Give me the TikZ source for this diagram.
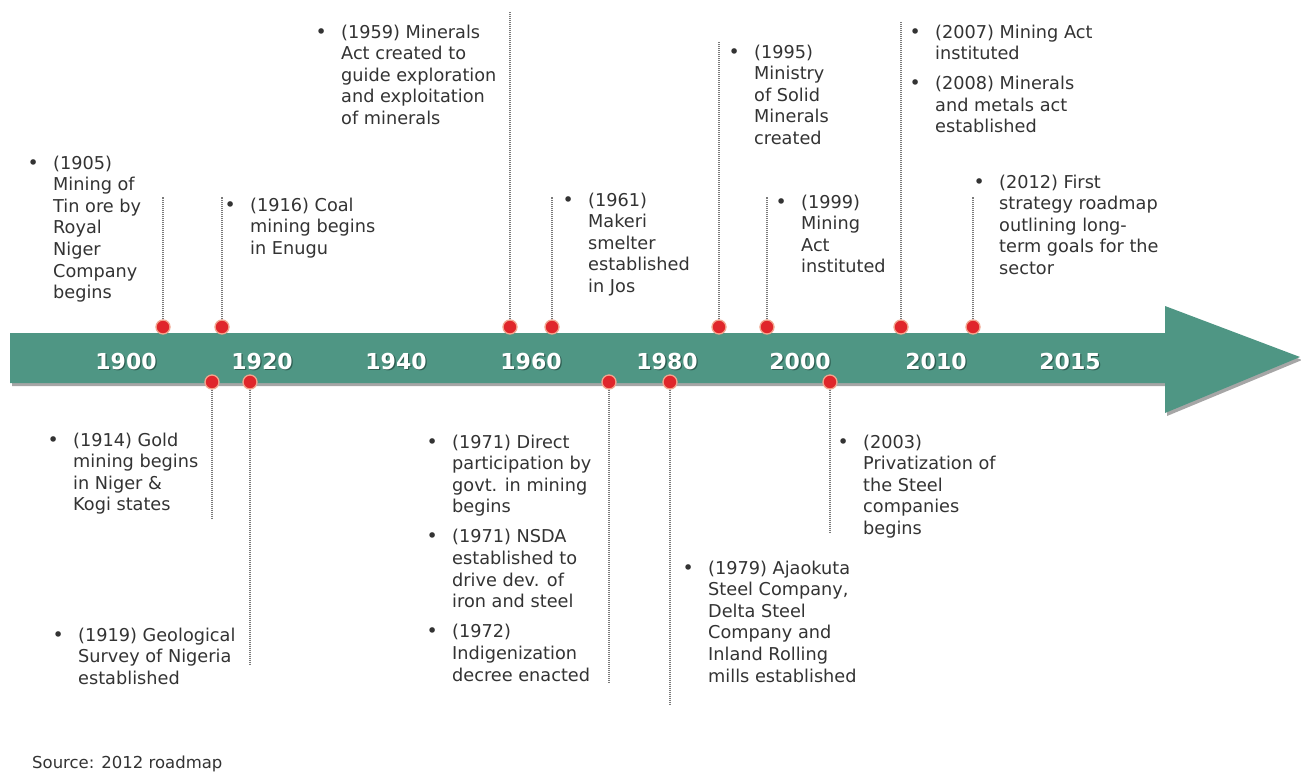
\documentclass[tikz,border=0pt]{standalone}
\usepackage{fontspec}
\setmainfont{DejaVu Sans}
\definecolor{teal1}{HTML}{4F9684}
\definecolor{tealdark}{HTML}{2F5E52}
\definecolor{txt}{HTML}{333333}
\definecolor{dotred}{HTML}{E0262B}
\definecolor{dotrim}{HTML}{F2A58E}
\definecolor{lnk}{HTML}{7A7A7A}
\newcommand\bu{\makebox[20pt][l]{\makebox[0pt][c]{\fontsize{19}{19}\selectfont •}}}
\begin{document}
\begin{tikzpicture}[x=1pt,y=-1pt,
  blk/.style={anchor=base west,inner sep=0pt,text=txt,font=\fontsize{17.7}{21.6}\selectfont},
  yr/.style={text=white,inner sep=0pt,font=\fontsize{22}{24}\bfseries\selectfont},
  yrs/.style={text=tealdark,inner sep=0pt,font=\fontsize{22}{24}\bfseries\selectfont},
  evdot/.style={circle,fill=dotred,draw=dotrim,line width=1.3pt,minimum size=14pt,inner sep=0pt},
  conn/.style={draw=lnk,line width=1.1pt,dash pattern=on 1pt off 1pt},
  src/.style={anchor=base west,inner sep=0pt,text=txt,font=\fontsize{16.5}{18}\selectfont}]
\useasboundingbox[fill=white] (0,0) rectangle (1301,772);

% arrow
\fill[black,opacity=0.35] (12,336) -- (1167,336) -- (1167,309) -- (1302,360) -- (1167,416) -- (1167,386) -- (12,386) -- cycle;
\fill[teal1] (10,333) -- (1165,333) -- (1165,306) -- (1300,357) -- (1165,413) -- (1165,383) -- (10,383) -- cycle;

% year labels
\foreach \x/\t in {126/1900,262/1920,396/1940,531/1960,667/1980,800/2000,936/2010,1070/2015}{
  \node[yrs] at (\x+1.3,362.3) {\t};
  \node[yr] (y\t) at (\x,361) {\t};
}

% event dots
\node[evdot] (d1905) at (163,327) {};
\node[evdot] (d1916) at (222,327) {};
\node[evdot] (d1959) at (510,327) {};
\node[evdot] (d1961) at (552,327) {};
\node[evdot] (d1995) at (719,327) {};
\node[evdot] (d1999) at (767,327) {};
\node[evdot] (d2007) at (901,327) {};
\node[evdot] (d2012) at (973,327) {};
\node[evdot] (d1914) at (212,382) {};
\node[evdot] (d1919) at (250,382) {};
\node[evdot] (d1971) at (609,382) {};
\node[evdot] (d1979) at (670,382) {};
\node[evdot] (d2003) at (830,382) {};

% connector ends
\coordinate (e1905) at (163,197);
\coordinate (e1916) at (222,197);
\coordinate (e1959) at (510,12);
\coordinate (e1961) at (552,197);
\coordinate (e1995) at (719,42);
\coordinate (e1999) at (767,197);
\coordinate (e2007) at (901,22);
\coordinate (e2012) at (973,197);
\coordinate (e1914) at (212,518);
\coordinate (e1919) at (250,665);
\coordinate (e1971) at (609,683);
\coordinate (e1979) at (670,705);
\coordinate (e2003) at (830,533);

\foreach \n in {1905,1916,1959,1961,1995,1999,2007,2012,1914,1919,1971,1979,2003}{
  \draw[conn] (d\n) -- (e\n);
}

% text blocks (top)
\node[blk] (t1905) at (33,169) {\begin{tabular}[t]{@{}l@{}l@{}}\bu&(1905)\\&Mining of\\&Tin ore by\\&Royal\\&Niger\\&Company\\&begins\end{tabular}};
\node[blk] (t1916) at (230,211) {\begin{tabular}[t]{@{}l@{}l@{}}\bu&(1916) Coal\\&mining begins\\&in Enugu\end{tabular}};
\node[blk] (t1959) at (321,38) {\begin{tabular}[t]{@{}l@{}l@{}}\bu&(1959) Minerals\\&Act created to\\&guide exploration\\&and exploitation\\&of minerals\end{tabular}};
\node[blk] (t1961) at (568,206) {\begin{tabular}[t]{@{}l@{}l@{}}\bu&(1961)\\&Makeri\\&smelter\\&established\\&in Jos\end{tabular}};
\node[blk] (t1995) at (734,58) {\begin{tabular}[t]{@{}l@{}l@{}}\bu&(1995)\\&Ministry\\&of Solid\\&Minerals\\&created\end{tabular}};
\node[blk] (t1999) at (781,208) {\begin{tabular}[t]{@{}l@{}l@{}}\bu&(1999)\\&Mining\\&Act\\&instituted\end{tabular}};
\node[blk] (t2007) at (915,38) {\begin{tabular}[t]{@{}l@{}l@{}}\bu&(2007) Mining Act\\&instituted\\[8.5pt]\bu&(2008) Minerals\\&and metals act\\&established\end{tabular}};
\node[blk] (t2012) at (979,188) {\begin{tabular}[t]{@{}l@{}l@{}}\bu&(2012) First\\&strategy roadmap\\&outlining long-\\&term goals for the\\&sector\end{tabular}};

% text blocks (bottom)
\node[blk] (t1914) at (53,446) {\begin{tabular}[t]{@{}l@{}l@{}}\bu&(1914) Gold\\&mining begins\\&in Niger \&\\&Kogi states\end{tabular}};
\node[blk] (t1919) at (58,641) {\begin{tabular}[t]{@{}l@{}l@{}}\bu&(1919) Geological\\&Survey of Nigeria\\&established\end{tabular}};
\node[blk] (t1971) at (432,448) {\begin{tabular}[t]{@{}l@{}l@{}}\bu&(1971) Direct\\&participation by\\&govt. in mining\\&begins\\[8.5pt]\bu&(1971) NSDA\\&established to\\&drive dev. of\\&iron and steel\\[8.5pt]\bu&(1972)\\&Indigenization\\&decree enacted\end{tabular}};
\node[blk] (t1979) at (688,574) {\begin{tabular}[t]{@{}l@{}l@{}}\bu&(1979) Ajaokuta\\&Steel Company,\\&Delta Steel\\&Company and\\&Inland Rolling\\&mills established\end{tabular}};
\node[blk] (t2003) at (843,448) {\begin{tabular}[t]{@{}l@{}l@{}}\bu&(2003)\\&Privatization of\\&the Steel\\&companies\\&begins\end{tabular}};

\node[src] (source) at (32,768) {Source: 2012 roadmap};
\end{tikzpicture}
\end{document}
